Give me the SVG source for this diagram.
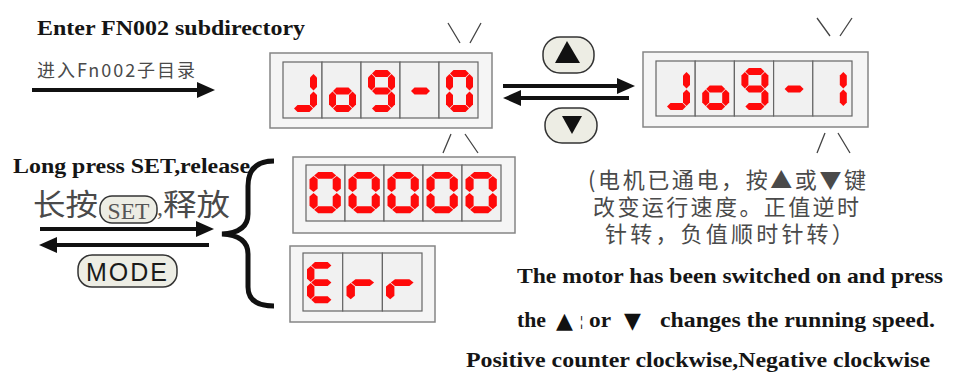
<svg xmlns="http://www.w3.org/2000/svg" xmlns:xlink="http://www.w3.org/1999/xlink" width="954" height="374" viewBox="0 0 954 374">
<style>
.tb{font-family:"Liberation Serif",serif;font-weight:bold;fill:#151515}
.cn{font-family:"Noto Sans CJK SC",sans-serif;fill:#4a4a4a}
.outer{fill:#f5f5f5;stroke:#858585;stroke-width:1.5}
.cell{fill:#f1f1f1;stroke:#666;stroke-width:1.2}
.seg{fill:#ff0a0a}
.blink{stroke:#444;stroke-width:1.3;fill:none}
.arr{stroke:#111;stroke-width:4;fill:none}
.btn{fill:#ededE4;stroke:#333;stroke-width:1.5}
.sym{font-family:"DejaVu Sans",sans-serif;fill:#111}
</style>
<defs>
<marker id="ah" markerUnits="userSpaceOnUse" markerWidth="20" markerHeight="18" refX="0" refY="8" orient="auto" overflow="visible">
<path d="M0,0 L18,8 L0,16 z" fill="#111"/>
</marker>
<polygon id="sa" points="4,3.5 7.5,0 19.5,0 23,3.5 19.5,7 7.5,7"/>
<polygon id="sg" points="4,21 7.5,17.5 19.5,17.5 23,21 19.5,24.5 7.5,24.5"/>
<polygon id="sd" points="4,38.5 7.5,35 19.5,35 23,38.5 19.5,42 7.5,42"/>
<polygon id="sf" points="3.5,4 7,7.5 7,17 3.5,20.5 0,17 0,7.5"/>
<polygon id="se" points="3.5,21.5 7,25 7,34.5 3.5,38 0,34.5 0,25"/>
<polygon id="sb" points="23.5,4 27,7.5 27,17 23.5,20.5 20,17 20,7.5"/>
<polygon id="sc" points="23.5,21.5 27,25 27,34.5 23.5,38 20,34.5 20,25"/>
<g id="dJ"><use href="#sb"/><use href="#sc"/><use href="#sd"/></g>
<g id="do"><use href="#sc"/><use href="#sd"/><use href="#se"/><use href="#sg"/></g>
<g id="d9"><use href="#sa"/><use href="#sb"/><use href="#sc"/><use href="#sd"/><use href="#sf"/><use href="#sg"/></g>
<g id="dm"><use href="#sg"/></g>
<g id="d0"><use href="#sa"/><use href="#sb"/><use href="#sc"/><use href="#sd"/><use href="#se"/><use href="#sf"/></g>
<g id="d1"><use href="#sb"/><use href="#sc"/></g>
<g id="dE"><use href="#sa"/><use href="#sd"/><use href="#se"/><use href="#sf"/><use href="#sg"/></g>
<g id="dr"><use href="#se"/><use href="#sg"/></g>
</defs>
<rect width="954" height="374" fill="#ffffff"/>

<g id="label-enter">
<text class="tb" x="37" y="35" font-size="22" textLength="268" lengthAdjust="spacingAndGlyphs">Enter FN002 subdirectory</text>
<text class="cn" x="37" y="77" font-size="18" textLength="158">进入Fn002子目录</text>
</g>

<g id="display-jog0">
<rect class="outer" x="270" y="53" width="222" height="75"/>
<rect class="cell" x="283" y="62" width="39" height="56"/>
<rect class="cell" x="322" y="62" width="39" height="56"/>
<rect class="cell" x="361" y="62" width="39" height="56"/>
<rect class="cell" x="400" y="62" width="39" height="56"/>
<rect class="cell" x="439" y="62" width="39" height="56"/>
<g class="seg">
<use href="#dJ" transform="translate(290,70)"/>
<use href="#do" transform="translate(329,70)"/>
<use href="#d9" transform="translate(368,70)"/>
<use href="#dm" transform="translate(407,70)"/>
<use href="#d0" transform="translate(446,70)"/>
</g>
<path class="blink" d="M448,23 L460,43 M481,23 L470,43 M443,153 L451,134 M465,134 L478,153"/>
</g>

<g id="display-jog1">
<rect class="outer" x="643" y="52" width="225" height="75"/>
<rect class="cell" x="656" y="61" width="39.2" height="55"/>
<rect class="cell" x="695.2" y="61" width="39.2" height="55"/>
<rect class="cell" x="734.4" y="61" width="39.2" height="55"/>
<rect class="cell" x="773.6" y="61" width="39.2" height="55"/>
<rect class="cell" x="812.8" y="61" width="39.2" height="55"/>
<g class="seg">
<use href="#dJ" transform="translate(663,68)"/>
<use href="#do" transform="translate(702.2,68)"/>
<use href="#d9" transform="translate(741.4,68)"/>
<use href="#dm" transform="translate(780.6,68)"/>
<use href="#d1" transform="translate(819.8,68)"/>
</g>
<path class="blink" d="M817,18 L830,36 M852,18 L840,36 M817,153 L825,133 M838,133 L850,153"/>
</g>

<g id="button-up">
<rect class="btn" x="543" y="37" width="51" height="36" rx="17"/>
<path d="M567,41 L555,63 L580,63 z" fill="#111"/>
</g>
<g id="button-down">
<rect class="btn" x="545" y="108" width="52" height="35" rx="17"/>
<path d="M562,116 L582,116 L572,134 z" fill="#111"/>
</g>

<g id="display-00000">
<rect class="outer" x="293" y="157" width="222" height="76"/>
<rect class="cell" x="306" y="165" width="39" height="56"/>
<rect class="cell" x="345" y="165" width="39" height="56"/>
<rect class="cell" x="384" y="165" width="39" height="56"/>
<rect class="cell" x="423" y="165" width="39" height="56"/>
<rect class="cell" x="462" y="165" width="39" height="56"/>
<g class="seg">
<use href="#d0" transform="translate(309.5,172) scale(1.16,0.98)"/>
<use href="#d0" transform="translate(348.5,172) scale(1.16,0.98)"/>
<use href="#d0" transform="translate(387.5,172) scale(1.16,0.98)"/>
<use href="#d0" transform="translate(426.5,172) scale(1.16,0.98)"/>
<use href="#d0" transform="translate(465.5,172) scale(1.16,0.98)"/>
</g>
</g>

<g id="display-err">
<rect class="outer" x="290" y="246" width="145" height="76"/>
<rect class="cell" x="303" y="253" width="39.7" height="58"/>
<rect class="cell" x="342.7" y="253" width="39.7" height="58"/>
<rect class="cell" x="382.4" y="253" width="39.6" height="58"/>
<g class="seg">
<use href="#dE" transform="translate(307,262) scale(1.06,0.98)"/>
<use href="#dr" transform="translate(346.5,262) scale(1.2,0.98)"/>
<use href="#dr" transform="translate(386,262) scale(1.2,0.98)"/>
</g>
</g>

<g id="label-long-press">
<text class="tb" x="13" y="173" font-size="20" textLength="237" lengthAdjust="spacingAndGlyphs">Long press SET,release</text>
<text class="cn" x="33" y="215" font-size="30" textLength="65" lengthAdjust="spacingAndGlyphs" fill="#555">长按</text>
<rect class="btn" x="100" y="196" width="57" height="27" rx="12"/>
<text x="128.5" y="219" font-family="Liberation Serif, serif" font-size="24" fill="#555" text-anchor="middle" textLength="42" lengthAdjust="spacingAndGlyphs">SET</text>
<text x="157" y="215" font-family="Liberation Serif, serif" font-size="24" fill="#555">,</text>
<text class="cn" x="163" y="215" font-size="30" textLength="67" lengthAdjust="spacingAndGlyphs" fill="#555">释放</text>
</g>

<g id="button-mode">
<rect class="btn" x="78" y="255" width="99" height="32" rx="14"/>
<text x="86" y="281" font-family="Liberation Sans, Arial, sans-serif" font-size="25" fill="#1a1a1a" textLength="81">MODE</text>
</g>

<g id="brace">
<path d="M274,161 C256,161 248,170 248,186 L248,214 C248,227 239,233 222,234 C239,235 248,241 248,254 L248,287 C248,299 256,306 274,306" fill="none" stroke="#111" stroke-width="5"/>
</g>

<g id="note-cn">
<text class="cn" font-size="22">
<tspan x="588" y="188" letter-spacing="2.6">(电机已通电，按▲或▼键</tspan>
<tspan x="593" y="215" letter-spacing="2.4">改变运行速度。正值逆时</tspan>
<tspan x="605" y="242" letter-spacing="3.2">针转，负值顺时针转）</tspan>
</text>
</g>

<g id="note-en">
<text class="tb" x="517" y="283" font-size="22" textLength="426" lengthAdjust="spacingAndGlyphs">The motor has been switched on and press</text>
<text class="tb" x="517" y="327" font-size="22" textLength="29" lengthAdjust="spacingAndGlyphs">the</text>
<text class="sym" x="556" y="328" font-size="22">▲</text>
<text class="tb" x="580" y="326" font-size="14" fill="#333">¦</text>
<text class="tb" x="589" y="327" font-size="22" textLength="22" lengthAdjust="spacingAndGlyphs">or</text>
<text class="sym" x="624" y="328" font-size="22">▼</text>
<text class="tb" x="660" y="327" font-size="22" textLength="275" lengthAdjust="spacingAndGlyphs">changes the running speed.</text>
<text class="tb" x="466" y="367" font-size="22" textLength="464" lengthAdjust="spacingAndGlyphs">Positive counter clockwise,Negative clockwise</text>
</g>

<g id="connectors">
<line class="arr" x1="32" y1="90" x2="197" y2="90" marker-end="url(#ah)"/>
<line class="arr" x1="503" y1="86" x2="617" y2="86" marker-end="url(#ah)"/>
<line class="arr" x1="629" y1="98" x2="521" y2="98" marker-end="url(#ah)"/>
<line class="arr" x1="40" y1="229" x2="196" y2="229" marker-end="url(#ah)"/>
<line class="arr" x1="209" y1="245" x2="57" y2="245" marker-end="url(#ah)"/>
</g>
</svg>
